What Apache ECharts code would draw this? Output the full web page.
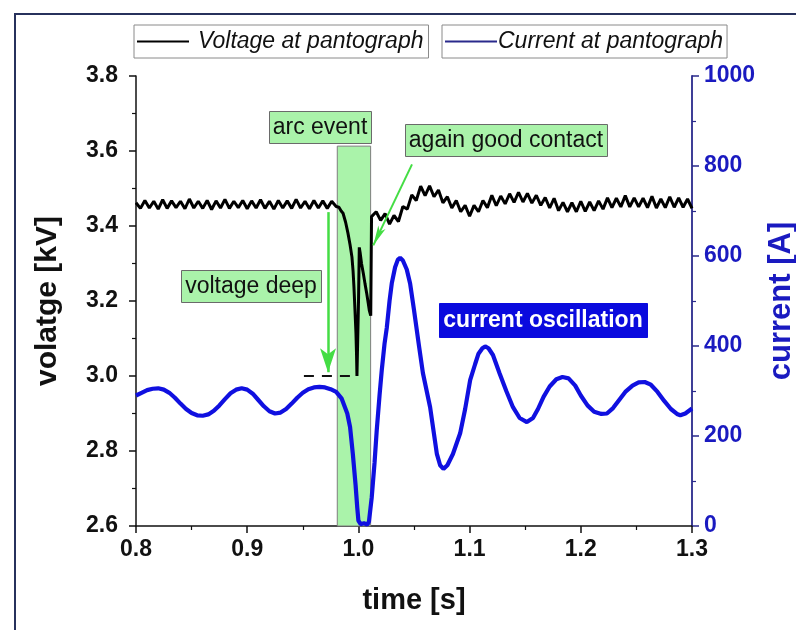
<!DOCTYPE html>
<html>
<head>
<meta charset="utf-8">
<script src="https://cdn.jsdelivr.net/npm/echarts@6/dist/echarts.min.js"></script>
<style>html,body{margin:0;padding:0;background:#fff;overflow:hidden}#c{width:796px;height:630px}</style>
</head>
<body>
<div id="c"></div>
<script>
// ---------- DATA ----------
const xTicks = [0.8, 0.9, 1.0, 1.1, 1.2, 1.3];
const voltTicks = [2.6, 2.8, 3.0, 3.2, 3.4, 3.6, 3.8];
const currTicks = [0, 200, 400, 600, 800, 1000];
const seriesNames = ['Voltage at pantograph', 'Current at pantograph'];

// voltage at pantograph [s, kV]
const voltage = [
[0.800,3.462],[0.804,3.447],[0.808,3.468],[0.812,3.448],[0.816,3.466],[0.820,3.445],[0.824,3.470],[0.828,3.447],
[0.832,3.467],[0.836,3.449],[0.840,3.466],[0.844,3.446],[0.848,3.472],[0.852,3.448],[0.856,3.466],[0.860,3.447],
[0.864,3.468],[0.868,3.444],[0.872,3.467],[0.876,3.448],[0.880,3.471],[0.884,3.447],[0.888,3.466],[0.892,3.449],
[0.896,3.468],[0.900,3.446],[0.904,3.467],[0.908,3.448],[0.912,3.470],[0.916,3.447],[0.920,3.466],[0.924,3.445],
[0.928,3.468],[0.932,3.448],[0.936,3.467],[0.940,3.447],[0.944,3.471],[0.948,3.448],[0.952,3.466],[0.956,3.446],
[0.960,3.468],[0.964,3.448],[0.968,3.467],[0.972,3.447],[0.976,3.466],[0.980,3.452],
[0.9825,3.450],[0.9845,3.440],[0.9862,3.434],[0.9885,3.410],[0.9906,3.381],[0.9925,3.350],[0.9942,3.317],
[0.9952,3.280],[0.9960,3.237],[0.9970,3.170],[0.9978,3.114],[0.9983,3.060],[0.9987,3.000],[0.9992,3.000],
[1.0001,3.200],[1.0008,3.343],[1.0015,3.330],[1.0028,3.300],[1.0044,3.274],[1.0060,3.245],[1.0075,3.220],
[1.0088,3.195],[1.0098,3.175],[1.0111,3.161],[1.0118,3.425],
[1.016,3.438],[1.020,3.415],[1.024,3.433],[1.028,3.405],[1.032,3.428],[1.036,3.412],[1.040,3.452],[1.044,3.445],
[1.048,3.483],[1.052,3.468],[1.056,3.506],[1.060,3.481],[1.064,3.507],[1.068,3.478],[1.072,3.496],[1.076,3.462],
[1.080,3.478],[1.084,3.448],[1.088,3.468],[1.092,3.438],[1.096,3.455],[1.100,3.426],[1.104,3.455],[1.108,3.438],
[1.112,3.468],[1.116,3.449],[1.120,3.482],[1.124,3.454],[1.128,3.480],[1.132,3.459],[1.136,3.486],[1.140,3.463],
[1.144,3.490],[1.148,3.464],[1.152,3.487],[1.156,3.461],[1.160,3.482],[1.164,3.455],[1.168,3.476],[1.172,3.448],
[1.176,3.474],[1.180,3.441],[1.184,3.463],[1.188,3.438],[1.192,3.462],[1.196,3.438],[1.200,3.466],[1.204,3.439],
[1.208,3.464],[1.212,3.441],[1.216,3.467],[1.220,3.445],[1.224,3.475],[1.228,3.449],[1.232,3.474],[1.236,3.451],
[1.240,3.481],[1.244,3.451],[1.248,3.475],[1.252,3.451],[1.256,3.474],[1.260,3.449],[1.264,3.479],[1.268,3.448],
[1.272,3.472],[1.276,3.449],[1.280,3.478],[1.284,3.450],[1.288,3.475],[1.292,3.450],[1.296,3.472],[1.300,3.447]
];

// current at pantograph [s, A]
const current = [
[0.800,290],[0.805,296],[0.810,302],[0.815,305],[0.820,306],[0.825,303],[0.830,296],[0.835,285],[0.840,272],
[0.845,260],[0.850,251],[0.855,246],[0.860,245],[0.865,248],[0.870,256],[0.875,268],[0.880,282],[0.885,295],
[0.890,303],[0.895,306],[0.900,303],[0.905,294],[0.910,280],[0.915,266],[0.920,255],[0.925,250],[0.930,252],
[0.935,260],[0.940,272],[0.945,285],[0.950,296],[0.955,304],[0.960,308],[0.965,309],[0.970,308],[0.975,304],
[0.980,298],[0.985,283],[0.990,250],[0.9925,220],[0.995,160],[0.9975,90],[0.999,40],[1.000,12],[1.002,4],
[1.005,6],[1.008,3],[1.0095,10],[1.012,64],[1.0145,140],[1.0165,213],[1.019,290],[1.021,346],[1.0235,405],
[1.0255,440],[1.028,500],[1.030,539],[1.033,575],[1.0355,592],[1.0375,596],[1.040,590],[1.0435,570],[1.0465,539],
[1.050,480],[1.0545,400],[1.058,340],[1.0645,264],[1.0705,161],[1.0735,135],[1.0765,127],[1.080,135],[1.085,160],
[1.0915,206],[1.096,260],[1.1005,324],[1.105,360],[1.108,383],[1.1115,395],[1.114,399],[1.117,395],[1.121,380],
[1.127,339],[1.133,300],[1.139,264],[1.145,240],[1.1515,231],[1.157,240],[1.1615,260],[1.1665,287],[1.172,310],
[1.178,326],[1.1835,331],[1.189,328],[1.195,312],[1.200,290],[1.206,268],[1.212,254],[1.2185,249],[1.2235,250],
[1.229,262],[1.2345,280],[1.240,298],[1.2465,312],[1.252,319],[1.2575,320],[1.263,314],[1.269,298],[1.275,278],
[1.281,260],[1.2865,249],[1.2895,246],[1.294,250],[1.300,261]
];

// dashed reference at the voltage minimum [s, kV]
const dashLevel = [[0.951,3.0],[0.9987,3.0]];
// arc event time window [s] and its top [kV]
const arcWindow = [0.981, 1.011];
const arcTop = 3.613;
// arrows: [start, end] in [s, kV]
const arrowDeep = [[0.9727,3.437],[0.9727,3.010]];
const arrowContact = [[1.0482,3.5645],[1.0134,3.3485]];

// ---------- STYLE / LAYOUT ----------
const FONT = "'Liberation Sans', Arial, sans-serif";
const BLUE = '#1010e0';
const NAVY = '#2a2a8c';
const GREEN = '#aaf3aa';
const annotations = [
  {text:'arc event', t:0.9196, v:3.7059, w:102, h:32, fill:GREEN, stroke:'#6a6a6a', color:'#111', weight:'normal'},
  {text:'again good contact', t:1.0419, v:3.6712, w:202, h:32, fill:GREEN, stroke:'#6a6a6a', color:'#111', weight:'normal'},
  {text:'voltage deep', t:0.8405, v:3.2819, w:140, h:32, fill:GREEN, stroke:'#6a6a6a', color:'#111', weight:'normal'},
  {text:'current oscillation', t:1.0725, v:3.1939, w:208, h:34, fill:'#0a0ade', stroke:'#0a0ade', color:'#fff', weight:'bold'}
];

const chart = echarts.init(document.getElementById('c'), null, {renderer:'canvas'});

const tickLabel = {fontFamily:FONT, fontWeight:'bold', fontSize:23, color:'#111'};

chart.setOption({
  animation:false,
  backgroundColor:'#fff',
  grid:{left:136, right:104, top:76, bottom:104, containLabel:false, outerBoundsMode:'none'},
  legend:[
    {data:[seriesNames[0]], left:134, top:25, orient:'horizontal', icon:'rect', itemWidth:52, itemHeight:2,
     itemGap:0, padding:[5,5,5,3], borderColor:'#8a8a8a', borderWidth:1, selectedMode:false,
     textStyle:{fontFamily:FONT, fontStyle:'italic', fontSize:23, color:'#111', padding:[0,0,0,4]}},
    {data:[seriesNames[1]], left:442, top:25, orient:'horizontal', icon:'rect', itemWidth:52, itemHeight:2,
     itemGap:0, padding:[5,4,5,3], borderColor:'#8a8a8a', borderWidth:1, selectedMode:false,
     textStyle:{fontFamily:FONT, fontStyle:'italic', fontSize:23, color:'#111', padding:[0,0,0,-4]}}
  ],
  xAxis:{
    type:'value', min:xTicks[0], max:xTicks[xTicks.length-1], interval:0.1,
    name:'time [s]', nameLocation:'middle', nameGap:60,
    nameTextStyle:{fontFamily:FONT, fontWeight:'bold', fontSize:29, color:'#111'},
    axisLine:{show:true, onZero:false, lineStyle:{color:'#111', width:1.5}},
    axisTick:{show:true, length:7, lineStyle:{color:'#111', width:1.5}},
    minorTick:{show:true, splitNumber:2, length:4, lineStyle:{color:'#111', width:1.2}},
    splitLine:{show:false},
    axisLabel:Object.assign({margin:12, formatter:v=>v.toFixed(1)}, tickLabel)
  },
  yAxis:[
    {type:'value', min:voltTicks[0], max:voltTicks[voltTicks.length-1], interval:0.2, position:'left',
     name:'volatge [kV]', nameLocation:'middle', nameGap:73, nameRotate:90,
     nameTextStyle:{fontFamily:FONT, fontWeight:'bold', fontSize:30, color:'#111'},
     axisLine:{show:true, lineStyle:{color:'#111', width:1.5}},
     axisTick:{show:true, length:7, lineStyle:{color:'#111', width:1.5}},
     minorTick:{show:true, splitNumber:2, length:4, lineStyle:{color:'#111', width:1.2}},
     splitLine:{show:false},
     axisLabel:Object.assign({margin:18, formatter:v=>v.toFixed(1)}, tickLabel)},
    {type:'value', min:currTicks[0], max:currTicks[currTicks.length-1], interval:200, position:'right',
     name:'current [A]', nameLocation:'middle', nameGap:72, nameRotate:90,
     nameTextStyle:{fontFamily:FONT, fontWeight:'bold', fontSize:31, color:'#1a1ac0'},
     axisLine:{show:true, lineStyle:{color:NAVY, width:1.8}},
     axisTick:{show:true, length:7, lineStyle:{color:NAVY, width:1.5}},
     minorTick:{show:true, splitNumber:2, length:4, lineStyle:{color:NAVY, width:1.2}},
     splitLine:{show:false},
     axisLabel:{margin:12, formatter:v=>String(v), fontFamily:FONT, fontWeight:'bold', fontSize:23, color:'#1a1ac0'}}
  ],
  series:[
    {name:'arcArea', type:'line', yAxisIndex:0, data:dashLevel, z:1, symbol:'none',
     lineStyle:{opacity:0}, silent:true,
     markArea:{silent:true, itemStyle:{color:GREEN, borderColor:'#7d7d7d', borderWidth:1},
       data:[[{xAxis:arcWindow[0], yAxis:arcTop},{xAxis:arcWindow[1], yAxis:voltTicks[0]}]]}},
    {name:'dash', type:'line', yAxisIndex:0, data:dashLevel, z:3, symbol:'none', silent:true,
     lineStyle:{color:'#111', width:2, type:[10,8]}},
    {name:seriesNames[1], type:'line', yAxisIndex:1, data:current, z:3, symbol:'none', showSymbol:false,
     color:NAVY, lineStyle:{color:BLUE, width:4.2}, silent:true},
    {name:seriesNames[0], type:'line', yAxisIndex:0, data:voltage, z:4, symbol:'none', showSymbol:false,
     color:'#000', lineStyle:{color:'#000', width:3}, silent:true},
    {name:'arrows', type:'line', yAxisIndex:0, data:[dashLevel[0]], z:6, symbol:'none', silent:true,
     lineStyle:{opacity:0},
     markLine:{silent:true, animation:false, label:{show:false}, symbol:['none','arrow'],
       data:[
         [{coord:arrowDeep[0], lineStyle:{color:'#44dd44', width:2.5, type:'solid'}, symbol:'none'},
          {coord:arrowDeep[1], symbol:'arrow', symbolSize:[12,24]}],
         [{coord:arrowContact[0], lineStyle:{color:'#44dd44', width:2, type:'solid'}, symbol:'none'},
          {coord:arrowContact[1], symbol:'arrow', symbolSize:[6,20]}]
       ]}}
  ]
});

// frame and annotation boxes
const graphics = [{type:'rect', silent:true, z:0, shape:{x:15, y:14, width:830, height:680},
  style:{fill:'none', stroke:'#27315c', lineWidth:2}}];
annotations.forEach(a => {
  const p = chart.convertToPixel({xAxisIndex:0, yAxisIndex:0}, [a.t, a.v]);
  graphics.push({type:'group', x:Math.round(p[0]), y:Math.round(p[1]), z:100, silent:true, children:[
    {type:'rect', shape:{x:0.5, y:0.5, width:a.w, height:a.h}, style:{fill:a.fill, stroke:a.stroke, lineWidth:1}},
    {type:'text', x:a.w/2, y:a.h/2+1, style:{text:a.text, fill:a.color,
      font:a.weight + ' 23px ' + FONT, align:'center', verticalAlign:'middle', textAlign:'center', textVerticalAlign:'middle'}}
  ]});
});
chart.setOption({graphic:graphics});
</script>
</body>
</html>
